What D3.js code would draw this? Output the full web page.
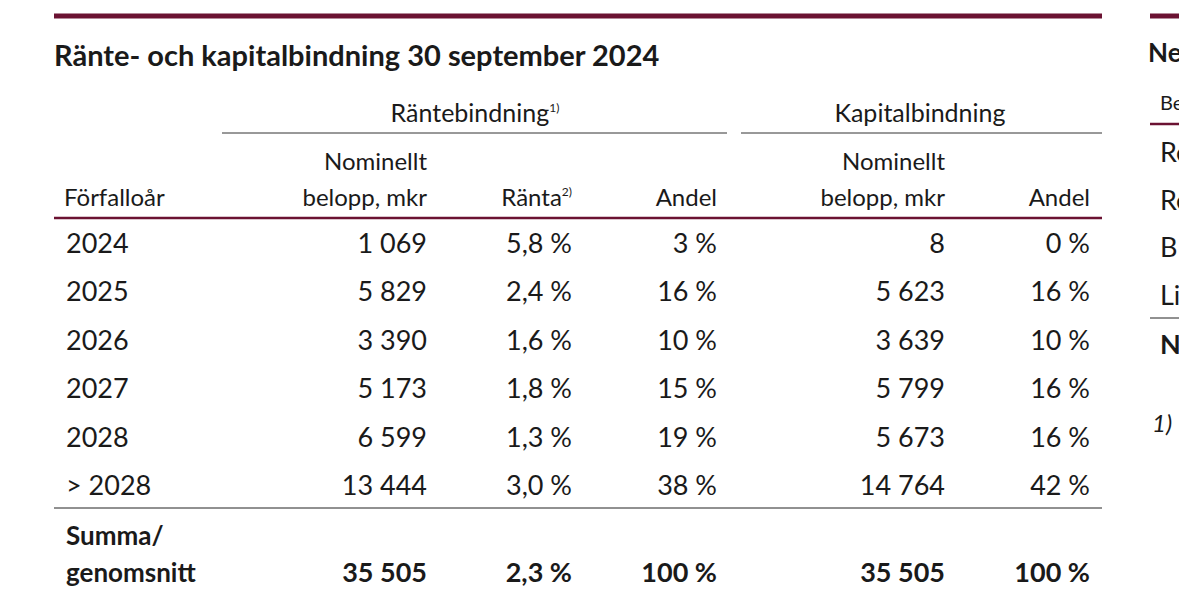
<!DOCTYPE html><html><head><meta charset="utf-8"><script src="https://cdn.jsdelivr.net/npm/d3@7"></script>
<style>body{margin:0;background:#fff}text{font-family:"Lato","Noto Sans",sans-serif;fill:#1a1a1a}</style></head><body><svg id="c" width="1179" height="591"></svg>
<script>
const years=["2024","2025","2026","2027","2028","> 2028"];
const rNominal=["1 069","5 829","3 390","5 173","6 599","13 444"];
const rRate=["5,8 %","2,4 %","1,6 %","1,8 %","1,3 %","3,0 %"];
const rShare=["3 %","16 %","10 %","15 %","19 %","38 %"];
const kNominal=["8","5 623","3 639","5 799","5 673","14 764"];
const kShare=["0 %","16 %","10 %","16 %","16 %","42 %"];
const totals=["35 505","2,3 %","100 %","35 505","100 %"];
const sideLabels=["Re","Re","B","Li"];
const maroon="#6b1232";
const svg=d3.select("#c");
const y=d3.scalePoint().domain(years).range([253,495]);
const colX=[427,572,717,945,1090];
const cols=[rNominal,rRate,rShare,kNominal,kShare];
function line(x1,x2,yy,w,c){svg.append("line").attr("x1",x1).attr("x2",x2).attr("y1",yy).attr("y2",yy).attr("stroke",c).attr("stroke-width",w);}
function txt(x,yy,s,o={}){const t=svg.append("text").attr("x",x).attr("y",yy).attr("font-size",o.size||26).attr("text-anchor",o.anchor||"start").attr("font-weight",o.bold?"700":"400");if(o.italic)t.attr("font-style","italic");t.text(s);return t;}
line(54,1102,16,5,maroon);line(1150,1179,16,5,maroon);
txt(54,66,"Ränte- och kapitalbindning 30 september 2024",{size:29,bold:true});
const g1=txt(475,122,"Räntebindning",{size:25,anchor:"middle"});g1.append("tspan").attr("font-size",12).attr("dy",-10).text("1)");
txt(920,122,"Kapitalbindning",{size:25,anchor:"middle"});
line(222,727,133,1,"#333");line(741,1102,133,1,"#333");
txt(64,206,"Förfalloår",{size:24});
txt(427,170,"Nominellt",{size:24,anchor:"end"});txt(427,206,"belopp, mkr",{size:24,anchor:"end"});
const r2=txt(572,206,"",{size:24,anchor:"end"});r2.append("tspan").text("Ränta");r2.append("tspan").attr("font-size",12).attr("dy",-10).text("2)");
txt(717,206,"Andel",{size:24,anchor:"end"});
txt(945,170,"Nominellt",{size:24,anchor:"end"});txt(945,206,"belopp, mkr",{size:24,anchor:"end"});
txt(1090,206,"Andel",{size:24,anchor:"end"});
line(54,1102,218,2.5,maroon);
years.forEach((yr,i)=>{txt(66,y(yr),yr,{size:27});cols.forEach((c,j)=>txt(colX[j],y(yr),c[i],{size:27,anchor:"end"}));});
line(54,1102,508,1,"#222");
txt(66,545,"Summa/",{size:26,bold:true});txt(66,582,"genomsnitt",{size:26,bold:true});
totals.forEach((v,j)=>txt(colX[j],582,v,{size:27,bold:true,anchor:"end"}));
txt(1148,62,"Ne",{size:26,bold:true});
txt(1160,110,"Be",{size:20});
line(1150,1179,124,2.5,maroon);
const sy=d3.scalePoint().domain(sideLabels.map((d,i)=>i)).range([162,305]);
sideLabels.forEach((s,i)=>txt(1160,sy(i),s,{size:27}));
line(1150,1179,318,1,"#222");
txt(1160,354,"N",{size:27,bold:true});
txt(1152,432,"1)",{size:24,italic:true});
</script></body></html>
